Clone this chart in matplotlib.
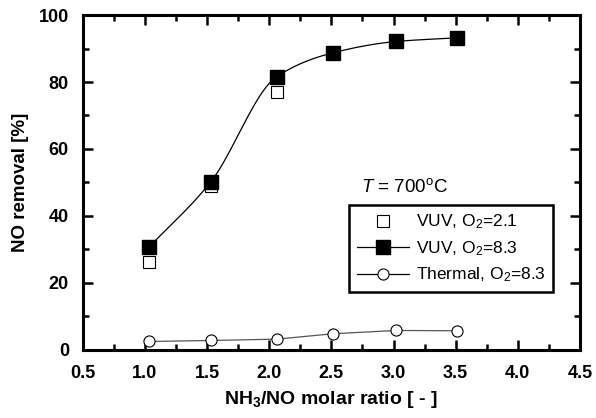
import numpy as np
import matplotlib
matplotlib.use("Agg")
import matplotlib.pyplot as plt
from matplotlib.ticker import MultipleLocator

plt.rcParams['font.family'] = ['Liberation Sans', 'DejaVu Sans']
plt.rcParams['font.weight'] = 'bold'
plt.rcParams['mathtext.fontset'] = 'custom'
plt.rcParams['mathtext.rm'] = 'Liberation Sans:weight=normal'
plt.rcParams['mathtext.it'] = 'Liberation Sans:style=italic:weight=normal'
plt.rcParams['mathtext.bf'] = 'Liberation Sans:weight=bold'

# data
x_vuv21 = [1.03, 1.53, 2.06]
y_vuv21 = [26.1, 49.0, 77.1]
x_vuv83 = [1.03, 1.53, 2.06, 2.51, 3.02, 3.51]
y_vuv83 = [30.6, 50.2, 81.6, 88.7, 92.1, 93.2]
x_th = [1.03, 1.53, 2.06, 2.51, 3.02, 3.51]
y_th = [2.5, 2.8, 3.2, 4.8, 5.8, 5.7]


def pchip(x, y, xs):
    # monotone cubic curve through the points, only for the smooth line
    x = np.asarray(x, float)
    y = np.asarray(y, float)
    h = np.diff(x)
    d = np.diff(y) / h
    m = np.zeros_like(y)
    for k in range(1, len(x) - 1):
        if d[k - 1] * d[k] > 0:
            w1 = 2 * h[k] + h[k - 1]
            w2 = h[k] + 2 * h[k - 1]
            m[k] = (w1 + w2) / (w1 / d[k - 1] + w2 / d[k])
    m[0] = d[0]
    m[-1] = d[-1]
    out = []
    for v in xs:
        k = min(max(np.searchsorted(x, v) - 1, 0), len(x) - 2)
        t = (v - x[k]) / h[k]
        h00 = 2 * t**3 - 3 * t**2 + 1
        h10 = t**3 - 2 * t**2 + t
        h01 = -2 * t**3 + 3 * t**2
        h11 = t**3 - t**2
        out.append(h00 * y[k] + h10 * h[k] * m[k] + h01 * y[k + 1] + h11 * h[k] * m[k + 1])
    return np.array(out)


fig = plt.figure(figsize=(5.96, 4.18), dpi=100)
ax = fig.add_axes([0.139, 0.163, 0.834, 0.801])

xs = np.linspace(x_vuv83[0], x_vuv83[-1], 200)
ax.plot(xs, pchip(x_vuv83, y_vuv83, xs), color='black', lw=0.9, zorder=2)
ax.plot(x_th, y_th, color='#555555', lw=0.9, zorder=2)

ax.plot(x_vuv21, y_vuv21, 's', ms=9, mfc='white', mec='black', mew=0.8, zorder=3)
ax.plot(x_vuv83, y_vuv83, 's', ms=9.5, mfc='black', mec='black', zorder=4)
ax.plot(x_th, y_th, 'o', ms=8, mfc='white', mec='black', mew=0.8, zorder=3)

# legend handles
h1, = ax.plot([], [], 's', ms=9, mfc='white', mec='black', mew=0.8)
h2, = ax.plot([], [], 's-', ms=9.5, mfc='black', mec='black', color='black', lw=0.9)
h3, = ax.plot([], [], 'o-', ms=8, mfc='white', mec='black', mew=0.8, color='black', lw=0.9)
leg = ax.legend([h1, h2, h3],
                ['VUV, O$_2$=2.1', 'VUV, O$_2$=8.3', 'Thermal, O$_2$=8.3'],
                loc='upper left', bbox_to_anchor=(0.535, 0.433),
                prop={'size': 12.5, 'weight': 'normal'},
                frameon=True, fancybox=False, edgecolor='black', framealpha=1,
                handlelength=3.0, handletextpad=0.4, borderpad=0.45,
                labelspacing=0.45, borderaxespad=0)
leg.get_frame().set_linewidth(1.8)

ax.text(0.56, 0.485, '$T$ = 700$^{\\mathrm{o}}$C', transform=ax.transAxes,
        fontsize=13.5, fontweight='normal', va='center', ha='left')

ax.set_xlim(0.5, 4.5)
ax.set_ylim(0, 100)
ax.xaxis.set_major_locator(MultipleLocator(0.5))
ax.xaxis.set_minor_locator(MultipleLocator(0.25))
ax.yaxis.set_major_locator(MultipleLocator(20))
ax.yaxis.set_minor_locator(MultipleLocator(10))
ax.xaxis.set_major_formatter(plt.FormatStrFormatter('%.1f'))

ax.tick_params(which='both', direction='in', top=True, right=True, width=1.8)
ax.tick_params(which='major', length=7, labelsize=13)
ax.tick_params(axis='x', which='major', pad=11)
ax.tick_params(axis='y', which='major', pad=10)
ax.tick_params(which='minor', length=4)
for s in ax.spines.values():
    s.set_linewidth(2.2)

ax.set_xlabel('NH$_\\mathbf{3}$/NO molar ratio [ - ]', fontsize=14,
              fontweight='bold', labelpad=5)
ax.set_ylabel('NO removal [%]', fontsize=13.5, fontweight='bold', labelpad=7)

fig.savefig('out.png', dpi=100)
